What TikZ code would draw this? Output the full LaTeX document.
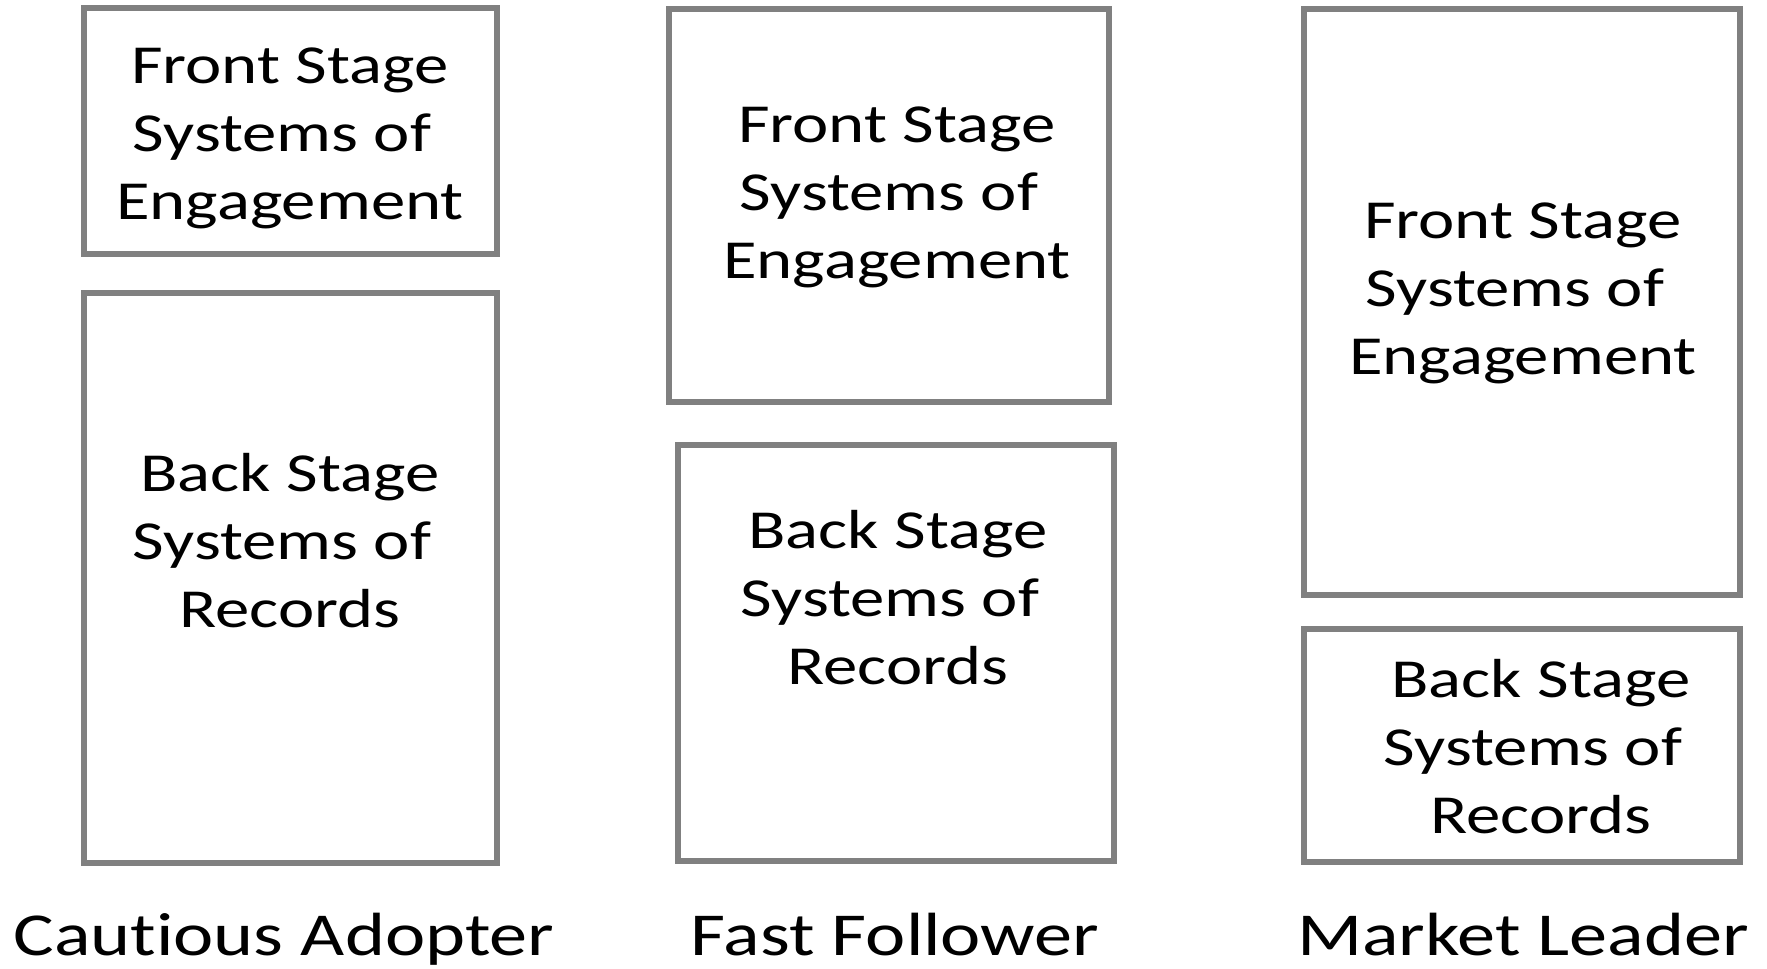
\documentclass[tikz,border=0pt]{standalone}
\usepackage{fontspec}
\setmainfont{Carlito}[FakeStretch=1.25]
\usepackage{tikz}
\usepackage{xcolor}
\usetikzlibrary{positioning}

\begin{document}
\begin{tikzpicture}[
      x=1pt, y=-1pt,
      stagebox/.style={rectangle, draw=gray, line width=6pt, fill=white, inner sep=0pt},
      stagetext/.style={align=center, font=\fontsize{55}{68}\selectfont, inner sep=0pt},
      caption/.style={anchor=base, font=\fontsize{61}{72}\selectfont, inner sep=0pt}
    ]
      \useasboundingbox (0,0) rectangle (1767,969);

      % Cautious Adopter
      \node[stagebox, minimum width=413pt, minimum height=246pt] (front1) at (290.5,131) {};
      \node[stagebox, minimum width=413pt, minimum height=570pt] (back1) at (290.5,578) {};
      \node[stagetext] (front1txt) at (290,138) {Front Stage\\Systems of\kern16pt\\Engagement};
      \node[stagetext] (back1txt) at (290,541) {Back Stage\\Systems of\kern16pt\\Records};

      % Fast Follower
      \node[stagebox, minimum width=440pt, minimum height=393pt] (front2) at (889,205.5) {};
      \node[stagebox, minimum width=436pt, minimum height=416pt] (back2) at (896,653) {};
      \node[stagetext] (front2txt) at (897,197) {Front Stage\\Systems of\kern16pt\\Engagement};
      \node[stagetext] (back2txt) at (898,598) {Back Stage\\Systems of\kern16pt\\Records};

      % Market Leader
      \node[stagebox, minimum width=436pt, minimum height=586pt] (front3) at (1522,302) {};
      \node[stagebox, minimum width=436pt, minimum height=233pt] (back3) at (1522,745.5) {};
      \node[stagetext] (front3txt) at (1523,293) {Front Stage\\Systems of\kern16pt\\Engagement};
      \node[stagetext] (back3txt) at (1541,747) {Back Stage\\Systems of\kern16pt\\Records};

      % Labels
      \node[caption] (cautious) at (284,955) {Caut\kern0pt ious Adopter};
      \node[caption] (fast) at (895,955) {Fast Follower};
      \node[caption] (leader) at (1523,955) {Market Leader};

    \end{tikzpicture}
\end{document}
